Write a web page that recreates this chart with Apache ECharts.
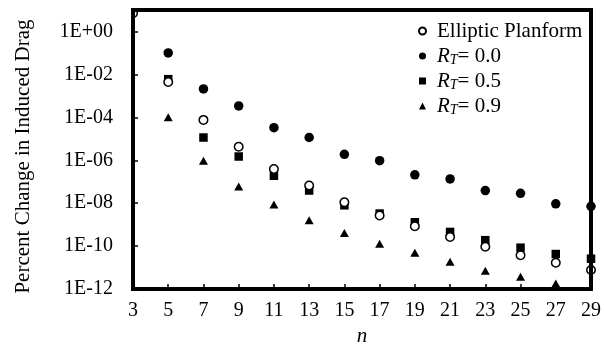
<!DOCTYPE html>
<html lang="en">
<head>
    <meta charset="UTF-8">
    <title>Induced drag</title>
    <script src="https://cdn.jsdelivr.net/npm/echarts@6/dist/echarts.min.js"></script>
    <style>
        body { margin: 0; background: #fff; }
        #chart { width: 604px; height: 352px; }
    </style>
</head>
<body>
    <div id="chart"></div>
    <script>
        // n values (x axis)
        var nValues = [3, 5, 7, 9, 11, 13, 15, 17, 19, 21, 23, 25, 27, 29];
        // percent change
        var elliptic = [7, 4.4e-3, 7.6e-5, 4.3e-6, 3.9e-7, 6.7e-8, 1.1e-8, 2.7e-9, 8.5e-10, 2.7e-10, 9.3e-11, 3.8e-11, 1.7e-11, 7.7e-12];
        var rt00 = [null, 0.1, 2.1e-3, 3.4e-4, 3.3e-5, 1.15e-5, 1.9e-6, 9.6e-7, 2.1e-7, 1.35e-7, 3.9e-8, 2.9e-8, 9.4e-9, 7.2e-9];
        var rt05 = [null, 6e-3, 1.15e-5, 1.5e-6, 1.9e-7, 3.9e-8, 8e-9, 3.3e-9, 1.3e-9, 4.6e-10, 1.9e-10, 8.5e-11, 4.3e-11, 2.6e-11];
        var rt09 = [null, 1e-4, 9.5e-7, 6e-8, 8.8e-9, 1.6e-9, 4.1e-10, 1.3e-10, 4.9e-11, 1.9e-11, 7.2e-12, 3.8e-12, 1.8e-12, null];
        var legendNames = ['Elliptic Planform', 'RT = 0.0', 'RT = 0.5', 'RT = 0.9'];

        var font = 'Liberation Serif';

        function pairs(vals) {
            var out = [];
            for (var i = 0; i < nValues.length; i++) {
                if (vals[i] != null) out.push([nValues[i], vals[i]]);
            }
            return out;
        }

        function expLabel(v) {
            var e = Math.round(Math.log10(v));
            if (e > 0) return '';
            var a = Math.abs(e);
            return '1E' + (e < 0 ? '-' : '+') + (a < 10 ? '0' + a : a);
        }

        var chart = echarts.init(document.getElementById('chart'));

        var option = {
            animation: false,
            textStyle: { fontFamily: font, color: '#000' },
            grid: {
                left: 133, right: 9, top: 10, bottom: 59,
                show: true, borderColor: '#000', borderWidth: 4, zlevel: 1, z: 3
            },
            legend: {
                data: legendNames,
                orient: 'vertical',
                left: 418, top: 20,
                padding: 0,
                itemWidth: 7, itemHeight: 7,
                itemGap: 3,
                textStyle: {
                    fontFamily: font, fontSize: 21, color: '#000', lineHeight: 22,
                    padding: [0, 0, 0, 6],
                    rich: {
                        i: { fontFamily: font, fontSize: 21, fontStyle: 'italic', lineHeight: 22 },
                        s: { fontFamily: font, fontSize: 14, fontStyle: 'italic', lineHeight: 13, verticalAlign: 'bottom' },
                        t: { fontFamily: font, fontSize: 21, lineHeight: 22 }
                    }
                },
                formatter: function (name) {
                    if (name.indexOf('RT') === 0) {
                        return '{i|R}{s|T}{t|' + name.substring(3) + '}';
                    }
                    return name;
                }
            },
            xAxis: {
                type: 'value',
                min: 3, max: 29, interval: 2,
                name: 'n',
                nameLocation: 'middle',
                nameGap: 32,
                nameTextStyle: { fontFamily: font, fontSize: 21, fontStyle: 'italic', color: '#000' },
                zlevel: 1, z: 3,
                axisLine: { lineStyle: { color: '#000', width: 4 } },
                axisTick: { inside: true, length: 5, lineStyle: { color: '#000', width: 1.5 } },
                axisLabel: { fontFamily: font, fontSize: 20, color: '#000', margin: 12 },
                splitLine: { show: false }
            },
            yAxis: {
                type: 'log',
                logBase: 100,
                min: 1e-12, max: 10,
                name: 'Percent Change in Induced Drag',
                nameLocation: 'middle',
                nameGap: 99,
                nameTextStyle: { fontFamily: font, fontSize: 21, color: '#000', padding: [0, 14, 0, 0] },
                zlevel: 1, z: 3,
                axisLine: { lineStyle: { color: '#000', width: 4 } },
                axisTick: { inside: true, length: 5, lineStyle: { color: '#000', width: 1.5 } },
                axisLabel: { fontFamily: font, fontSize: 20, color: '#000', margin: 20, formatter: expLabel },
                splitLine: { show: false },
                minorTick: { show: false }
            },
            // white strips outside the plot so edge markers look clipped by the frame
            graphic: [
                { type: 'rect', zlevel: 1, z: 2, shape: { x: 596, y: 0, width: 8, height: 296 }, style: { fill: '#fff' } },
                { type: 'rect', zlevel: 1, z: 2, shape: { x: 120, y: 0, width: 484, height: 9 }, style: { fill: '#fff' } },
                { type: 'rect', zlevel: 1, z: 2, shape: { x: 118, y: 0, width: 14, height: 40 }, style: { fill: '#fff' } }
            ],
            series: [
                {
                    name: 'RT = 0.5', type: 'scatter',
                    symbol: 'rect', symbolSize: 8.5,
                    itemStyle: { color: '#000', opacity: 1 },
                    data: pairs(rt05)
                },
                {
                    name: 'RT = 0.0', type: 'scatter',
                    symbol: 'circle', symbolSize: 9.5,
                    itemStyle: { color: '#000', opacity: 1 },
                    data: pairs(rt00)
                },
                {
                    name: 'RT = 0.9', type: 'scatter',
                    symbol: 'triangle', symbolSize: [9, 8],
                    itemStyle: { color: '#000', opacity: 1 },
                    data: pairs(rt09)
                },
                {
                    name: 'Elliptic Planform', type: 'scatter',
                    symbol: 'circle', symbolSize: 8.5,
                    itemStyle: { color: '#fff', borderColor: '#000', borderWidth: 1.5, opacity: 1 },
                    data: pairs(elliptic)
                }
            ]
        };

        chart.setOption(option);
    </script>
</body>
</html>
